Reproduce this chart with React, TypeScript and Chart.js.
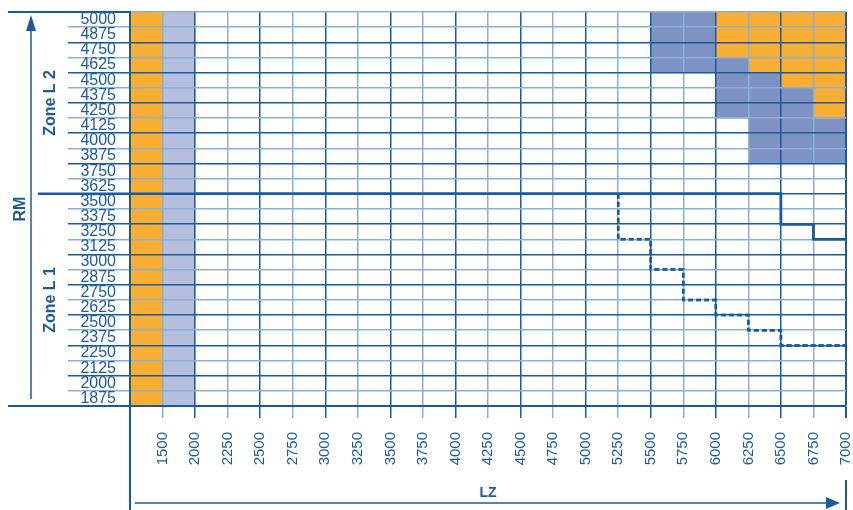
import { useEffect, useRef } from 'react';
import { Chart, registerables } from 'chart.js';

Chart.register(...registerables);

// LZ column labels (drawn at the right edge of each column)
const lzLabels = ['1500', '2000', '2250', '2500', '2750', '3000', '3250', '3500', '3750', '4000', '4250',
  '4500', '4750', '5000', '5250', '5500', '5750', '6000', '6250', '6500', '6750', '7000'];
// RM row labels, top to bottom
const rmLabels = [5000, 4875, 4750, 4625, 4500, 4375, 4250, 4125, 4000, 3875, 3750, 3625, 3500,
  3375, 3250, 3125, 3000, 2875, 2750, 2625, 2500, 2375, 2250, 2125, 2000, 1875];
const rmStep = 125;

// One string per RM row (top -> bottom), one character per LZ column:
// O = orange, L = lavender, B = blue, . = empty
const cellRows = [
  'OL..............BBOOOO',
  'OL..............BBOOOO',
  'OL..............BBOOOO',
  'OL..............BBBOOO',
  'OL................BBOO',
  'OL................BBBO',
  'OL................BBBO',
  'OL.................BBB',
  'OL.................BBB',
  'OL.................BBB',
  'OL....................',
  'OL....................',
  'OL....................',
  'OL....................',
  'OL....................',
  'OL....................',
  'OL....................',
  'OL....................',
  'OL....................',
  'OL....................',
  'OL....................',
  'OL....................',
  'OL....................',
  'OL....................',
  'OL....................',
  'OL....................',
];

// Zone L1 / L2 limit (solid): column line where each level starts, and RM level
const l1LimitX = [0, 20, 21, 22];
const l1LimitRM = [3562.5, 3312.5, 3187.5, 3187.5];
// Dashed limit
const dashLimitX = [15, 15, 16, 17, 18, 19, 20, 22];
const dashLimitRM = [3562.5, 3187.5, 2937.5, 2687.5, 2562.5, 2437.5, 2312.5, 2312.5];

const DARK = '#1b5a9b';
const LIGHT = '#8cafd5';
const TEXT = '#1e5b9c';
const ORANGE = '#f8ae33';
const LAVENDER = '#b6bedd';
const BLUE = '#7f92c4';

function buildRuns(code: string) {
  const data: any[] = [];
  for (let c = 0; c < lzLabels.length; c++) {
    let r = 0;
    while (r < rmLabels.length) {
      if (cellRows[r][c] !== code) { r++; continue; }
      let e = r;
      while (e + 1 < rmLabels.length && cellRows[e + 1][c] === code) e++;
      data.push({ x: c + 0.5, y: [rmLabels[e] - rmStep / 2, rmLabels[r] + rmStep / 2] });
      r = e + 1;
    }
  }
  return data;
}

const decor = {
  id: 'decor',
  afterDraw(chart: any) {
    const { ctx, chartArea: a, scales } = chart;
    const ys = scales.y;
    // boundary lines on top of the grid
    chart.data.datasets.forEach((ds: any, i: number) => {
      if (ds.type === 'line') chart.getDatasetMeta(i).controller.draw();
    });
    ctx.save();
    ctx.strokeStyle = DARK;
    ctx.fillStyle = DARK;
    const seg = (x1: number, y1: number, x2: number, y2: number, w: number) => {
      ctx.lineWidth = w;
      ctx.beginPath();
      ctx.moveTo(x1, y1);
      ctx.lineTo(x2, y2);
      ctx.stroke();
    };
    const tri = (p: number[]) => {
      ctx.beginPath();
      ctx.moveTo(p[0], p[1]);
      ctx.lineTo(p[2], p[3]);
      ctx.lineTo(p[4], p[5]);
      ctx.closePath();
      ctx.fill();
    };
    seg(8, a.top, a.left, a.top, 2);
    seg(8, a.bottom, a.left, a.bottom, 2);
    const yz = ys.getPixelForValue(l1LimitRM[0]);
    seg(38, yz, a.left, yz, 2.5);
    seg(a.left, a.bottom, a.left, chart.height, 2);
    seg(a.right, chart.height - 30, a.right, chart.height, 2);
    // RM arrow
    seg(31, a.bottom - 7, 31, 28, 1.5);
    tri([31, 15, 26, 31, 36, 31]);
    // LZ arrow
    seg(a.left + 5, 503, a.right - 18, 503, 1.5);
    tri([a.right - 6, 503, a.right - 20, 497, a.right - 20, 509]);
    // texts
    ctx.fillStyle = TEXT;
    ctx.textAlign = 'center';
    ctx.textBaseline = 'middle';
    const rot = (t: string, x: number, y: number) => {
      ctx.save();
      ctx.translate(x, y);
      ctx.rotate(-Math.PI / 2);
      ctx.fillText(t, 0, 0);
      ctx.restore();
    };
    ctx.font = 'bold 16px "Liberation Sans", Arial, sans-serif';
    rot('RM', 21, (a.top + a.bottom) / 2);
    rot('Zone L 2', 51, (a.top + yz) / 2);
    rot('Zone L 1', 51, (yz + a.bottom) / 2);
    ctx.font = 'bold 14px "Liberation Sans", Arial, sans-serif';
    ctx.fillText('LZ', (a.left + a.right) / 2, 493);
    ctx.restore();
  },
};

export default function App() {
  const ref = useRef<HTMLCanvasElement>(null);
  useEffect(() => {
    const nCols = lzLabels.length;
    const chart = new Chart(ref.current as HTMLCanvasElement, {
      type: 'bar',
      data: {
        datasets: [
          { type: 'bar', data: buildRuns('O'), backgroundColor: ORANGE, grouped: false, barPercentage: 1, categoryPercentage: 1, borderWidth: 0 } as any,
          { type: 'bar', data: buildRuns('L'), backgroundColor: LAVENDER, grouped: false, barPercentage: 1, categoryPercentage: 1, borderWidth: 0 } as any,
          { type: 'bar', data: buildRuns('B'), backgroundColor: BLUE, grouped: false, barPercentage: 1, categoryPercentage: 1, borderWidth: 0 } as any,
          { type: 'line', data: l1LimitX.map((v, i) => ({ x: v, y: l1LimitRM[i] })), borderColor: DARK, borderWidth: 2.5, pointRadius: 0, stepped: 'before', fill: false } as any,
          { type: 'line', data: dashLimitX.map((v, i) => ({ x: v, y: dashLimitRM[i] })), borderColor: DARK, borderWidth: 2.5, borderDash: [5, 3], pointRadius: 0, stepped: 'before', fill: false } as any,
        ],
      },
      options: {
        animation: false,
        responsive: false,
        events: [],
        layout: { padding: { top: 12, right: 7, bottom: 0, left: 0 } },
        plugins: { legend: { display: false }, tooltip: { enabled: false } },
        scales: {
          x: {
            type: 'linear',
            min: 0,
            max: nCols,
            offset: false,
            afterBuildTicks: (s: any) => { s.ticks = Array.from({ length: nCols + 1 }, (_, i) => ({ value: i })); },
            afterFit: (s: any) => { s.height = 104; s.paddingLeft = 0; s.paddingRight = 0; },
            grid: {
              z: 1,
              offset: false,
              tickLength: 12,
              color: (c: any) => (c.index % 2 === 0 ? DARK : LIGHT),
              lineWidth: (c: any) => (c.index === nCols ? 2 : 1.5),
            },
            border: { color: DARK, width: 2, z: 1 },
            ticks: {
              z: 2,
              autoSkip: false,
              minRotation: 90,
              maxRotation: 90,
              padding: 14,
              color: TEXT,
              font: { family: '"Liberation Sans", Arial, sans-serif', size: 15 },
              callback: (v: any) => (v === 0 ? '' : lzLabels[v - 1]),
            },
          } as any,
          y: {
            type: 'linear',
            min: rmLabels[rmLabels.length - 1] - rmStep / 2,
            max: rmLabels[0] + rmStep / 2,
            afterBuildTicks: (s: any) => { s.ticks = [...rmLabels].reverse().map((v) => ({ value: v })); },
            afterFit: (s: any) => { s.width = 130; s.paddingTop = 0; s.paddingBottom = 0; },
            grid: {
              z: 1,
              offset: true,
              tickLength: 62,
              color: (c: any) => (c.index % 2 === 0 ? DARK : LIGHT),
              lineWidth: (c: any) => (c.index === 0 || c.index === rmLabels.length ? 2 : 1.5),
            },
            border: { color: DARK, width: 2, z: 1 },
            ticks: {
              z: 2,
              autoSkip: false,
              padding: -48,
              color: TEXT,
              font: { family: '"Liberation Sans", Arial, sans-serif', size: 16 },
              callback: (v: any) => String(v),
            },
          } as any,
        },
      },
      plugins: [decor],
    });
    return () => chart.destroy();
  }, []);
  return (
    <div style={{ position: 'absolute', left: 0, top: 0, width: 853, height: 510, background: '#fff' }}>
      <canvas ref={ref} width={853} height={510} />
    </div>
  );
}
